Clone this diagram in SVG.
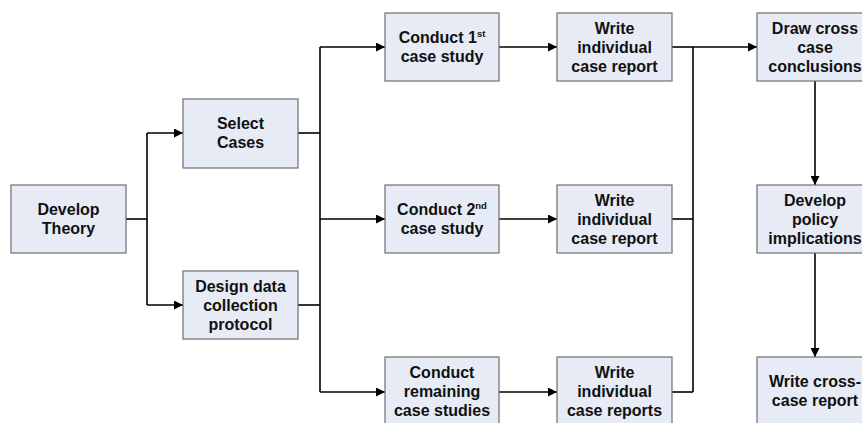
<svg xmlns="http://www.w3.org/2000/svg" width="862" height="423" viewBox="0 0 862 423">
  <style>
    .box { fill: #E6EBF6; stroke: #6E6E6E; stroke-width: 1.2; }
    .lbl { font-family: "Liberation Sans", Arial, sans-serif; font-size: 16px; font-weight: bold; fill: #111; text-anchor: middle; }
    .sup { font-size: 9.5px; }
    .wire { fill: none; stroke: #000; stroke-width: 1.6; }
  </style>
  <defs>
    <marker id="arrow" viewBox="0 0 10 10" refX="10" refY="5" markerWidth="9" markerHeight="9" markerUnits="userSpaceOnUse" orient="auto">
      <path d="M0,0 L10,5 L0,10 Z" fill="#000"/>
    </marker>
  </defs>
  <rect width="862" height="423" fill="#fff"/>

  <g id="connectors">
    <!-- theory to selection and protocol -->
    <path class="wire" d="M126,219 H147"/>
    <path class="wire" d="M147,133 V305"/>
    <path class="wire" d="M147,133 H183" marker-end="url(#arrow)"/>
    <path class="wire" d="M147,305 H183" marker-end="url(#arrow)"/>
    <!-- fan out to case studies -->
    <path class="wire" d="M298,133 H320"/>
    <path class="wire" d="M298,305 H320"/>
    <path class="wire" d="M320,47 V392"/>
    <path class="wire" d="M320,47 H385" marker-end="url(#arrow)"/>
    <path class="wire" d="M320,219 H385" marker-end="url(#arrow)"/>
    <path class="wire" d="M320,392 H385" marker-end="url(#arrow)"/>
    <!-- studies to reports -->
    <path class="wire" d="M499,47 H557" marker-end="url(#arrow)"/>
    <path class="wire" d="M499,219 H557" marker-end="url(#arrow)"/>
    <path class="wire" d="M499,392 H557" marker-end="url(#arrow)"/>
    <!-- reports merge into conclusions -->
    <path class="wire" d="M672,47 H693"/>
    <path class="wire" d="M672,219 H693"/>
    <path class="wire" d="M672,392 H693"/>
    <path class="wire" d="M693,47 V392"/>
    <path class="wire" d="M693,47 H757" marker-end="url(#arrow)"/>
    <!-- right column -->
    <path class="wire" d="M815,81 V185" marker-end="url(#arrow)"/>
    <path class="wire" d="M815,253 V357" marker-end="url(#arrow)"/>
  </g>

  <g id="develop-theory">
    <rect class="box" x="11" y="185" width="115" height="68"/>
    <text class="lbl" x="68.5" y="214.5">Develop</text>
    <text class="lbl" x="68.5" y="233.5">Theory</text>
  </g>

  <g id="select-cases">
    <rect class="box" x="183" y="99" width="115" height="69"/>
    <text class="lbl" x="240.5" y="128.5">Select</text>
    <text class="lbl" x="240.5" y="147.5">Cases</text>
  </g>

  <g id="design-protocol">
    <rect class="box" x="183" y="271" width="115" height="68"/>
    <text class="lbl" x="240.5" y="291.5">Design data</text>
    <text class="lbl" x="240.5" y="310.5">collection</text>
    <text class="lbl" x="240.5" y="329.5">protocol</text>
  </g>

  <g id="conduct-first">
    <rect class="box" x="385" y="13" width="114" height="68"/>
    <text class="lbl" x="442" y="42.5">Conduct 1<tspan class="sup" dy="-6">st</tspan></text>
    <text class="lbl" x="442" y="61.5">case study</text>
  </g>

  <g id="conduct-second">
    <rect class="box" x="385" y="185" width="114" height="68"/>
    <text class="lbl" x="442" y="214.5">Conduct 2<tspan class="sup" dy="-6">nd</tspan></text>
    <text class="lbl" x="442" y="233.5">case study</text>
  </g>

  <g id="conduct-remaining">
    <rect class="box" x="385" y="357" width="114" height="70"/>
    <text class="lbl" x="442" y="377.5">Conduct</text>
    <text class="lbl" x="442" y="396.5">remaining</text>
    <text class="lbl" x="442" y="415.5">case studies</text>
  </g>

  <g id="report-first">
    <rect class="box" x="557" y="13" width="115" height="68"/>
    <text class="lbl" x="614.5" y="33.5">Write</text>
    <text class="lbl" x="614.5" y="52.5">individual</text>
    <text class="lbl" x="614.5" y="71.5">case report</text>
  </g>

  <g id="report-second">
    <rect class="box" x="557" y="185" width="115" height="68"/>
    <text class="lbl" x="614.5" y="205.5">Write</text>
    <text class="lbl" x="614.5" y="224.5">individual</text>
    <text class="lbl" x="614.5" y="243.5">case report</text>
  </g>

  <g id="report-remaining">
    <rect class="box" x="557" y="357" width="115" height="70"/>
    <text class="lbl" x="614.5" y="377.5">Write</text>
    <text class="lbl" x="614.5" y="396.5">individual</text>
    <text class="lbl" x="614.5" y="415.5">case reports</text>
  </g>

  <g id="cross-conclusions">
    <rect class="box" x="757" y="13" width="115" height="68"/>
    <text class="lbl" x="815" y="33.5">Draw cross</text>
    <text class="lbl" x="815" y="52.5">case</text>
    <text class="lbl" x="815" y="71.5">conclusions</text>
  </g>

  <g id="policy-implications">
    <rect class="box" x="757" y="185" width="115" height="68"/>
    <text class="lbl" x="815" y="205.5">Develop</text>
    <text class="lbl" x="815" y="224.5">policy</text>
    <text class="lbl" x="815" y="243.5">implications</text>
  </g>

  <g id="cross-case-report">
    <rect class="box" x="757" y="357" width="115" height="70"/>
    <text class="lbl" x="815" y="386.5">Write cross-</text>
    <text class="lbl" x="815" y="405.5">case report</text>
  </g>
</svg>
